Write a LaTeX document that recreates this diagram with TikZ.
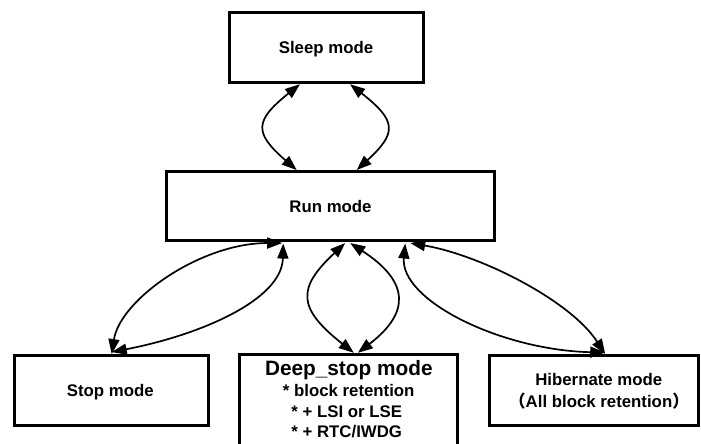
\documentclass[tikz,border=0pt]{standalone}
\usepackage{fontspec}
\setmainfont{Liberation Sans}
\newfontfamily\cjkfont{Noto Sans CJK SC}
\usetikzlibrary{arrows.meta}
\begin{document}
\begin{tikzpicture}[x=1pt,y=-1pt,
  box/.style 2 args={draw, line width=2.8pt, minimum width=#1, minimum height=#2, inner sep=0pt, outer sep=1.4pt},
  lbl/.style={font=\bfseries\fontsize{16.8pt}{20pt}\selectfont, inner sep=0pt, anchor=base},
  big/.style={font=\bfseries\fontsize{20.8pt}{24pt}\selectfont, inner sep=0pt, anchor=base},
  arr/.style={line width=1.7pt, {Triangle[length=15pt,width=11pt]}-{Triangle[length=15pt,width=11pt]}}
]
\path[use as bounding box] (0,0) rectangle (701,444);
\clip (0,0) rectangle (701,444);

% boxes
\node[box={194pt}{70.6pt}] (sleep) at (326.5,47.5) {};
\node[box={328pt}{68.7pt}] (run) at (330.2,205.8) {};
\node[box={193.7pt}{69.7pt}] (stop) at (111.7,390.3) {};
\node[box={218pt}{120pt}, anchor=north] (deep) at (348.8,352.8) {};
\node[box={208.7pt}{69.7pt}] (hib) at (594.2,390.3) {};

% labels
\node[lbl] (sleeptxt) at (326,53.3) {Sleep mode};
\node[lbl] (runtxt) at (330.5,212.3) {Run mode};
\node[lbl] (stoptxt) at (110.3,396.7) {Stop mode};
\node[big] (deeptxt1) at (348.8,375) {Deep\_stop mode};
\node[lbl] (deeptxt2) at (348.7,396.7) {* block retention};
\node[lbl] (deeptxt3) at (346.7,417.3) {* + LSI or LSE};
\node[lbl] (deeptxt4) at (346.7,437.7) {* + RTC/IWDG};
\node[lbl] (hibtxt1) at (598.8,385) {Hibernate mode};
\node[lbl] (hibtxt2) at (599,407) {{\cjkfont （}All block retention{\cjkfont ）}};

% sleep <-> run
\draw[arr] ([xshift=-26.5pt]sleep.south) .. controls (254,121) and (254,133) .. ([xshift=-33.5pt]run.north);
\draw[arr] ([xshift=23.5pt]sleep.south) .. controls (397,121) and (397,133) .. ([xshift=26.5pt]run.north);

% run <-> deep stop
\draw[arr] ([xshift=15pt,yshift=-1.5pt]run.south) .. controls (297,288) and (297,308) .. ([xshift=5pt]deep.north);
\draw[arr] ([xshift=20pt,yshift=-1.5pt]run.south) .. controls (410,282) and (410,313) .. ([xshift=9pt]deep.north);

% run <-> stop
\draw[arr] (stop.north) .. controls (120,300) and (200,243) .. ([xshift=-48pt,yshift=-1.5pt]run.south);
\draw[arr] ([yshift=2pt]stop.north) .. controls (200,335) and (282,300) .. ([xshift=-47pt,yshift=-2pt]run.south);

% run <-> hibernate
\draw[arr] ([xshift=80pt,yshift=-1.5pt]run.south) .. controls (480,255) and (570,300) .. ([xshift=11pt]hib.north);
\draw[arr] ([xshift=75pt,yshift=-2pt]run.south) .. controls (400,300) and (500,350) .. ([xshift=11pt,yshift=1.5pt]hib.north);
\end{tikzpicture}
\end{document}
